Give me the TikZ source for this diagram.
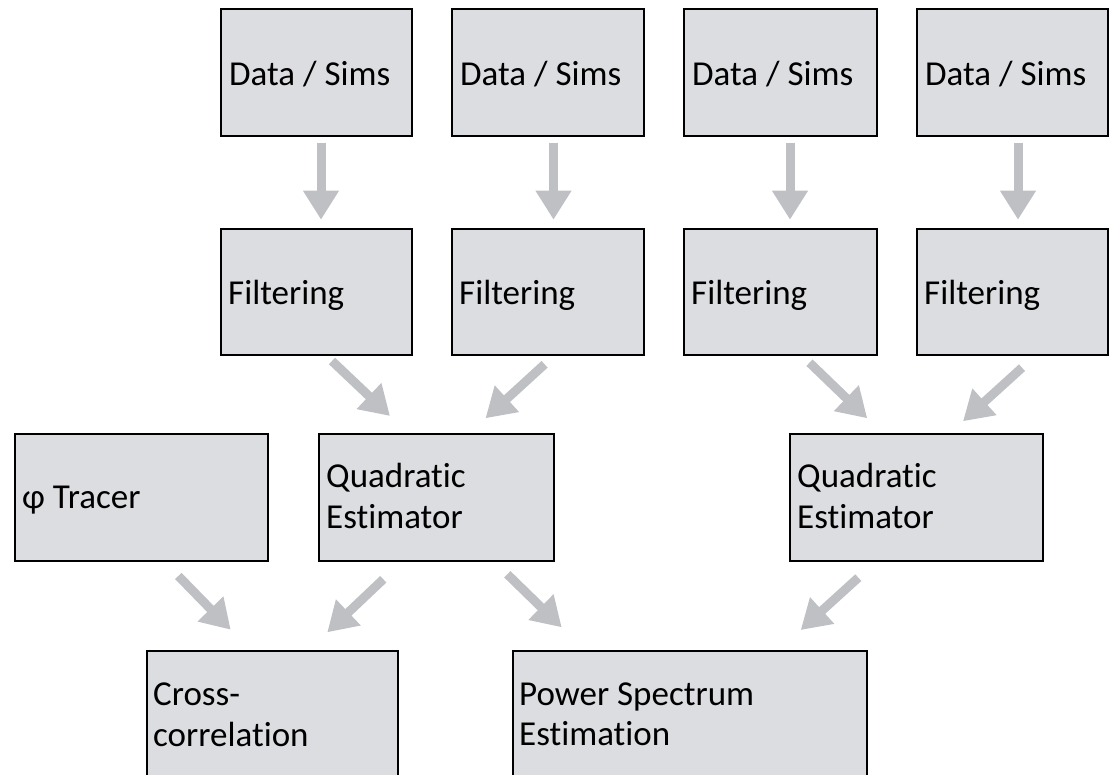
\documentclass[tikz,border=0pt]{standalone}
\usepackage{fontspec}
\setmainfont{Carlito}[Ligatures={NoCommon}]
\usetikzlibrary{arrows.meta,calc}
\definecolor{boxfill}{RGB}{220,221,224}
\definecolor{arrowgray}{RGB}{191,192,196}
\tikzset{
  box/.style={draw=black, line width=2pt, fill=boxfill, rectangle, inner sep=0pt},
  txt/.style={inner sep=0pt, anchor=base west, font=\fontsize{35}{41}\selectfont},
  flow/.style={draw=arrowgray, line width=9pt, -{Triangle[length=29pt,width=34pt]}}
}
\begin{document}
\begin{tikzpicture}[x=1pt,y=-1pt]
\useasboundingbox (0,0) rectangle (1111,774);
\clip (0,0) rectangle (1111,774);
% Data row
\node[box, minimum width=191pt, minimum height=127pt] (d1) at (316.5,72.5) {};
\node[box, minimum width=192pt, minimum height=127pt] (d2) at (548,72.5) {};
\node[box, minimum width=193pt, minimum height=127pt] (d3) at (780.5,72.5) {};
\node[box, minimum width=191pt, minimum height=127pt] (d4) at (1012.5,72.5) {};
% Filter row
\node[box, minimum width=191pt, minimum height=126pt] (f1) at (316.5,292) {};
\node[box, minimum width=192pt, minimum height=126pt] (f2) at (548,292) {};
\node[box, minimum width=193pt, minimum height=126pt] (f3) at (780.5,292) {};
\node[box, minimum width=191pt, minimum height=126pt] (f4) at (1012.5,292) {};
% Third row
\node[box, minimum width=253pt, minimum height=126.7pt] (tr) at (141.5,497.3) {};
\node[box, minimum width=235pt, minimum height=126.7pt] (qe1) at (436.5,497.3) {};
\node[box, minimum width=253pt, minimum height=126.7pt] (qe2) at (916.5,497.3) {};
% Bottom row
\node[box, minimum width=251pt, minimum height=149pt] (cc) at (272.5,725.5) {};
\node[box, minimum width=353.5pt, minimum height=149pt] (ps) at (689.75,725.5) {};
% Labels
\foreach \n in {d1,d2,d3,d4}{
  \node[txt] (\n-t) at ($(\n.north west)+(9,77.7)$) {Data / Sims};
}
\foreach \n in {f1,f2,f3,f4}{
  \node[txt] (\n-t) at ($(\n.north west)+(8,76)$) {Filtering};
}
\node[txt] (tr-t) at ($(tr.north west)+(8,76)$) {φ Tracer};
\node[txt] (qe1-a) at ($(qe1.north west)+(8,54.3)$) {Quadratic};
\node[txt] (qe1-b) at ($(qe1.north west)+(8,96)$) {Estimator};
\node[txt] (qe2-a) at ($(qe2.north west)+(8,54.3)$) {Quadratic};
\node[txt] (qe2-b) at ($(qe2.north west)+(8,96)$) {Estimator};
\node[txt] (cc-a) at ($(cc.north west)+(7,55.7)$) {Cross-};
\node[txt] (cc-b) at ($(cc.north west)+(7,96.3)$) {correlation};
\node[txt] (ps-a) at ($(ps.north west)+(7,55.7)$) {Power Spectrum};
\node[txt] (ps-b) at ($(ps.north west)+(7,95.7)$) {Estimation};
% Vertical arrows
\draw[flow] ($(d1.south)+(4.5,5.7)$) -- ($(f1.north)+(4.5,-8.3)$);
\draw[flow] ($(d2.south)+(5.5,5.7)$) -- ($(f2.north)+(5.5,-8.3)$);
\draw[flow] ($(d3.south)+(9.5,5.7)$) -- ($(f3.north)+(9.5,-8.3)$);
\draw[flow] ($(d4.south)+(5.5,5.7)$) -- ($(f4.north)+(5.5,-8.3)$);
% Diagonal arrows into quadratic estimators
\draw[flow] ($(f1.south)+(15.5,5)$) -- ($(qe1.north west)+(72,-17)$);
\draw[flow] ($(f2.south)+(-3.4,8.3)$) -- ($(qe1.north west)+(167.5,-14.7)$);
\draw[flow] ($(f3.south)+(29,6.7)$) -- ($(qe2.north west)+(78.2,-14.7)$);
\draw[flow] ($(f4.south)+(9.5,11.7)$) -- ($(qe2.north west)+(174,-11.7)$);
% Arrows into bottom row
\draw[flow] ($(tr.south)+(36.8,14.3)$) -- ($(cc.north west)+(84.7,-20.3)$);
\draw[flow] ($(qe1.south)+(-53.2,17.6)$) -- ($(cc.north west)+(181.3,-17.7)$);
\draw[flow] ($(qe1.south)+(70.8,12.6)$) -- ($(ps.north west)+(49.7,-22.7)$);
\draw[flow] ($(qe2.south)+(-58.2,16)$) -- ($(ps.north west)+(288.7,-20)$);
\end{tikzpicture}
\end{document}
